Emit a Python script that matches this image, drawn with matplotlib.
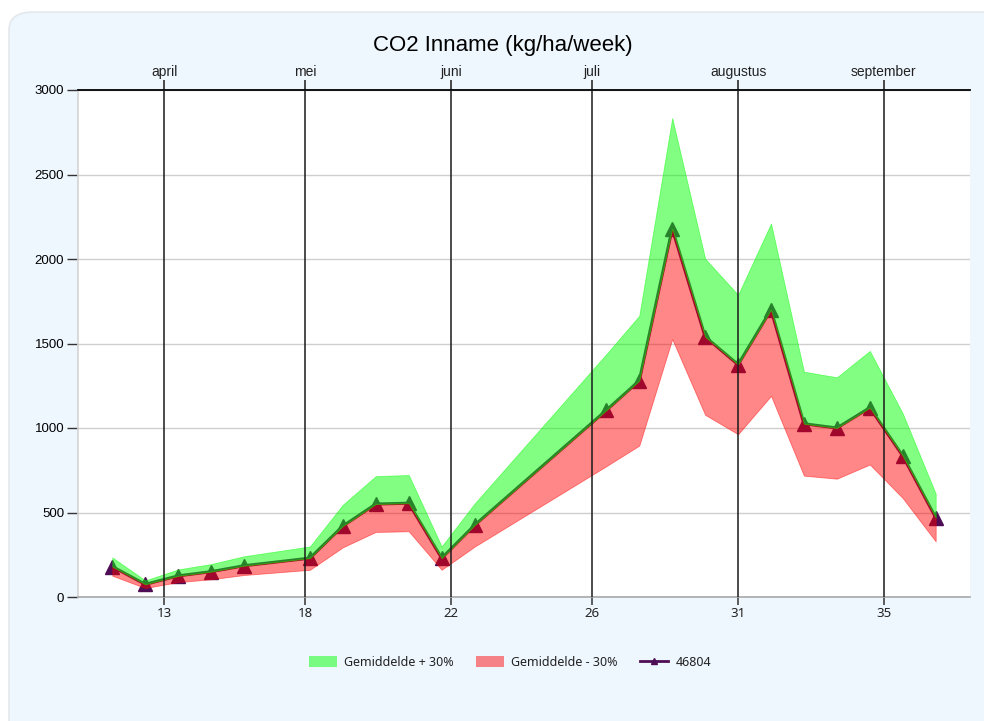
import datetime as dt
import matplotlib
matplotlib.use("Agg")
import matplotlib.pyplot as plt
import matplotlib.dates as mdates
from matplotlib.patches import FancyBboxPatch, Patch
from matplotlib.lines import Line2D

# ---- data ----
dates = ["2023-03-21", "2023-03-28", "2023-04-04", "2023-04-11", "2023-04-18",
         "2023-05-02", "2023-05-09", "2023-05-16", "2023-05-23", "2023-05-30",
         "2023-06-06", "2023-07-04", "2023-07-11", "2023-07-18", "2023-07-25",
         "2023-08-01", "2023-08-08", "2023-08-15", "2023-08-22", "2023-08-29",
         "2023-09-05", "2023-09-12"]
gemiddelde = [180, 75, 125, 150, 185, 230, 420, 550, 555, 230, 425,
              1105, 1280, 2180, 1540, 1375, 1700, 1025, 1000, 1120, 835, 470]
upper = [234, 98, 163, 195, 241, 299, 546, 715, 722, 299, 553,
         1437, 1664, 2834, 2002, 1788, 2210, 1333, 1300, 1456, 1086, 611]
lower = [126, 53, 88, 105, 130, 161, 294, 385, 389, 161, 298,
         774, 896, 1526, 1078, 963, 1190, 718, 700, 784, 585, 329]
serie_46804 = [180, 75, 125, 150, 185, 230, 420, 550, 555, 230, 425,
               1105, 1280, 2180, 1540, 1375, 1700, 1025, 1000, 1120, 835, 470]

month_starts = ["2023-04-01", "2023-05-01", "2023-06-01", "2023-07-01",
                "2023-08-01", "2023-09-01"]
month_labels = ["april", "mei", "juni", "juli", "augustus", "september"]
week_labels = ["13", "18", "22", "26", "31", "35"]
title = "CO2 Inname (kg/ha/week)"
legend_labels = ["Gemiddelde + 30%", "Gemiddelde - 30%", "46804"]

x = [mdates.date2num(dt.datetime.fromisoformat(d)) for d in dates]
mx = [mdates.date2num(dt.datetime.fromisoformat(d)) for d in month_starts]

W, H = 984, 721
fig = plt.figure(figsize=(W / 100, H / 100), dpi=100, facecolor="white")

# rounded panel background
panel = FancyBboxPatch((9 / W, -0.05), 1.2, (H - 12) / H + 0.05,
                       boxstyle="round,pad=0,rounding_size=0.025",
                       transform=fig.transFigure, facecolor="#eef6fe",
                       edgecolor="#e4e8ec", linewidth=1.2, zorder=0)
fig.patches.append(panel)

ax = fig.add_axes([78 / W, 1 - 597 / H, (970 - 78) / W, (597 - 90) / H])
ax.set_facecolor("white")
ax.set_zorder(1)

purple = "#4e0d55"
ax.plot(x, serie_46804, color=purple, lw=2.2, marker="^", ms=9.5,
        zorder=2, solid_joinstyle="miter")
ax.fill_between(x, lower, gemiddelde, color=(1, 0, 0), alpha=0.47, lw=0.6,
                zorder=3)
ax.fill_between(x, gemiddelde, upper, color=(0, 1, 0), alpha=0.49, lw=0.6,
                zorder=3)

for m in mx:
    ax.axvline(m, color="#1a1a1a", lw=1.1, zorder=4)

ax.set_xlim(mdates.date2num(dt.datetime(2023, 3, 13, 17)),
            mdates.date2num(dt.datetime(2023, 9, 19, 7)))
ax.set_ylim(0, 3000)
ax.set_yticks(range(0, 3001, 500))
ax.yaxis.grid(True, color="#cfcfcf", lw=1)
ax.set_axisbelow(True)

ax.set_xticks(mx)
ax.set_xticklabels(week_labels, family="Noto Sans", fontsize=9.5, color="#222222")
ax.tick_params(axis="x", direction="out", length=6, width=1.1, color="#333333", pad=1)
ax.tick_params(axis="y", direction="out", length=8, width=1, color="#333333",
               labelsize=9.5, pad=2)
for lab in ax.get_yticklabels():
    lab.set_family("Liberation Sans")

for s in ["right"]:
    ax.spines[s].set_visible(False)
ax.spines["top"].set_color("black")
ax.spines["top"].set_linewidth(1.3)
ax.spines["bottom"].set_color("#a8a8a8")
ax.spines["bottom"].set_linewidth(1.2)
ax.spines["left"].set_color("#d4d4d4")
ax.spines["left"].set_linewidth(1.2)

sec = ax.secondary_xaxis("top")
sec.set_xticks(mx)
sec.set_xticklabels(month_labels, family=["Liberation Sans Narrow", "Liberation Sans"],
                    fontsize=10, color="#222222")
sec.tick_params(axis="x", direction="out", length=7, width=1.1, color="#1a1a1a", pad=1)
sec.spines["top"].set_visible(False)

fig.text(503 / W, 1 - 45 / H, title, ha="center", va="center",
         fontsize=16, family="Liberation Sans", color="black")

handles = [Patch(facecolor=(0, 1, 0, 0.49), edgecolor="none"),
           Patch(facecolor=(1, 0, 0, 0.47), edgecolor="none"),
           Line2D([], [], color=purple, lw=2, marker="^", ms=5)]
leg = fig.legend(handles, legend_labels, loc="center", ncol=3,
                 bbox_to_anchor=(510 / W, 1 - 662 / H), frameon=False,
                 prop={"family": "Noto Sans", "size": 9}, handlelength=2.2,
                 handleheight=1.0, columnspacing=1.8, handletextpad=0.6)
for t in leg.get_texts():
    t.set_color("#222222")

fig.savefig("out.png", dpi=100, facecolor="white")
